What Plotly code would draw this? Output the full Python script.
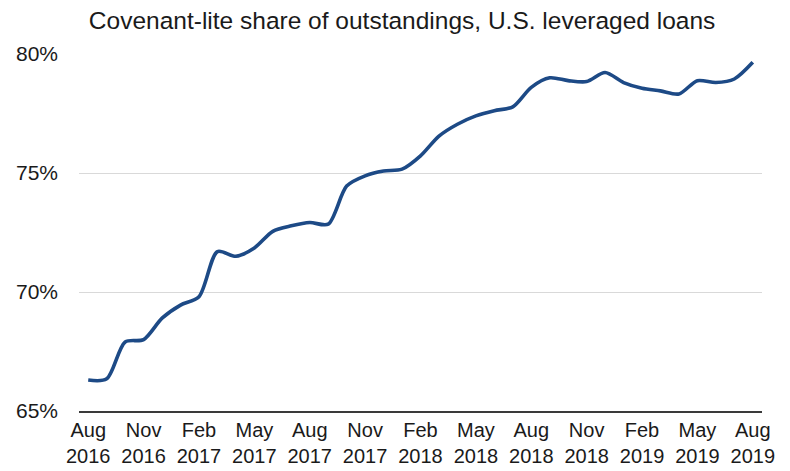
import plotly.graph_objects as go

months = ["Aug 2016","Sep 2016","Oct 2016","Nov 2016","Dec 2016","Jan 2017","Feb 2017","Mar 2017",
          "Apr 2017","May 2017","Jun 2017","Jul 2017","Aug 2017","Sep 2017","Oct 2017","Nov 2017",
          "Dec 2017","Jan 2018","Feb 2018","Mar 2018","Apr 2018","May 2018","Jun 2018","Jul 2018",
          "Aug 2018","Sep 2018","Oct 2018","Nov 2018","Dec 2018","Jan 2019","Feb 2019","Mar 2019",
          "Apr 2019","May 2019","Jun 2019","Jul 2019","Aug 2019"]
share = [66.3, 66.35, 67.9, 68.0, 68.9, 69.45, 69.8, 71.7,
         71.5, 71.85, 72.55, 72.78, 72.92, 72.85, 74.45, 74.88,
         75.08, 75.16, 75.72, 76.55, 77.05, 77.4, 77.62, 77.78,
         78.6, 79.0, 78.88, 78.84, 79.22, 78.8, 78.56, 78.45,
         78.32, 78.88, 78.8, 78.95, 79.65]
tick_labels = ["Aug<br>2016","Nov<br>2016","Feb<br>2017","May<br>2017","Aug<br>2017","Nov<br>2017",
               "Feb<br>2018","May<br>2018","Aug<br>2018","Nov<br>2018","Feb<br>2019","May<br>2019","Aug<br>2019"]
y_ticks = [65, 70, 75, 80]
y_tick_text = ["65%", "70%", "75%", "80%"]

x_idx = list(range(len(months)))
arial = "Liberation Sans, Arial, sans-serif"

fig = go.Figure()
fig.add_trace(go.Scatter(
    x=x_idx, y=share, mode="lines",
    line=dict(color="#1d4a86", width=3.6, shape="spline", smoothing=0.8),
    hovertext=months, showlegend=False))

fig.update_layout(
    width=790, height=471,
    margin=dict(l=79, r=28, t=54, b=60),
    paper_bgcolor="white", plot_bgcolor="white",
    title=dict(text="Covenant-lite share of outstandings, U.S. leveraged loans",
               x=0.509, xanchor="center", y=0.957, yanchor="middle",
               font=dict(family=arial, size=24.5, color="#1a1a1a")),
    xaxis=dict(range=[-0.5, 36.5], tickmode="array", tickvals=list(range(0, 37, 3)),
               ticktext=tick_labels, showgrid=False, zeroline=False, automargin=False,
               showline=True, linecolor="#3a3a3a", linewidth=1.5,
               ticks="", ticklabelstandoff=0,
               tickfont=dict(family=arial, size=20, color="#1a1a1a")),
    yaxis=dict(range=[65, 80], tickmode="array", tickvals=y_ticks, ticktext=y_tick_text,
               showgrid=True, gridcolor="#d9d9d9", gridwidth=1, zeroline=False, automargin=False,
               showline=False, ticks="", ticklabelstandoff=20,
               tickfont=dict(family=arial, size=21, color="#1a1a1a")),
)
fig.write_html("out.html")
